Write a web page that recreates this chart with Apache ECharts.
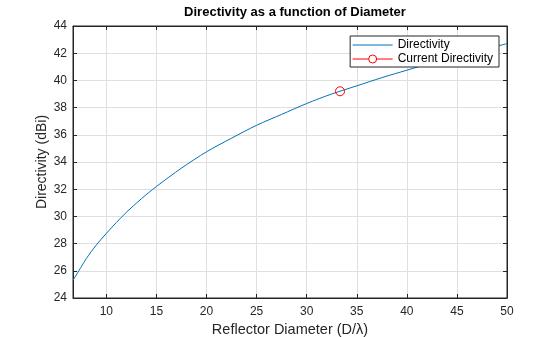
<!DOCTYPE html>
<html><head><meta charset="utf-8">
<script src="https://cdn.jsdelivr.net/npm/echarts@6/dist/echarts.min.js"></script>
<style>html,body{margin:0;padding:0;background:#fff}#c{width:560px;height:337px}</style>
</head><body><div id="c"></div>
<script>
var diameters = [6.67, 7.5, 8, 9, 10, 11, 12, 13.5, 15, 17.5, 20, 22.5, 25, 27.5, 30, 32.5, 35, 37.5, 40, 42.5, 45, 47.5, 50];
var directivity = [25.3, 26.3, 26.9, 27.9, 28.75, 29.55, 30.3, 31.3, 32.2, 33.55, 34.75, 35.75, 36.7, 37.5, 38.3, 39.0, 39.6, 40.2, 40.75, 41.3, 41.8, 42.25, 42.7];
var currentDiameter = [33.33];
var currentDirectivity = [39.2];
var xTicks = [10, 15, 20, 25, 30, 35, 40, 45, 50];
var yTicks = [24, 26, 28, 30, 32, 34, 36, 38, 40, 42, 44];

var font = 'Liberation Sans, Arial, sans-serif';
var chart = echarts.init(document.getElementById('c'), null, {renderer: 'canvas'});
var mainLine = diameters.map(function (d, i) { return [d, directivity[i]]; });
var curPt = currentDiameter.map(function (d, i) { return [d, currentDirectivity[i]]; });
var axLine = {show: true, onZero: false, lineStyle: {color: '#262626', width: 1}};
var yTick = {show: true, inside: true, length: 4, lineStyle: {color: '#262626'}, customValues: yTicks};
var xTick = {show: true, inside: true, length: 4, lineStyle: {color: '#262626'}, customValues: xTicks};
chart.setOption({
  animation: false,
  backgroundColor: '#fff',
  title: {
    text: 'Directivity as a function of Diameter', left: 290, top: 1, textAlign: 'center',
    textStyle: {fontFamily: font, fontWeight: 'bold', fontSize: 13, color: '#000'}
  },
  grid: {left: 73, right: 53, top: 26, bottom: 39, show: true, borderColor: '#262626', borderWidth: 1,
         containLabel: false, outerBoundsMode: 'none'},
  legend: {
    orient: 'vertical', right: 61, top: 36, backgroundColor: '#fff', borderColor: '#262626', borderWidth: 1,
    borderRadius: 0, padding: [3, 6, 2, 2], itemGap: 2, itemWidth: 40, itemHeight: 10,
    textStyle: {fontFamily: font, fontSize: 12, color: '#000'},
    data: [
      {name: 'Directivity', itemStyle: {opacity: 0}, lineStyle: {color: '#0072BD', width: 1}},
      {name: 'Current Directivity', itemStyle: {color: '#fff', borderColor: '#FF0000', borderWidth: 1}, lineStyle: {color: '#FF0000', width: 1}}
    ]
  },
  xAxis: [{
    type: 'value', min: 6.67, max: 50, position: 'bottom',
    name: 'Reflector Diameter (D/\u03bb)', nameLocation: 'middle', nameGap: 22,
    nameTextStyle: {fontFamily: font, fontSize: 14.5, color: '#262626'},
    axisLine: axLine, axisTick: xTick,
    axisLabel: {fontFamily: font, fontSize: 12, color: '#262626', margin: 8, customValues: xTicks},
    splitLine: {show: true, lineStyle: {color: '#dfdfdf', width: 1}}
  }, {
    type: 'value', min: 6.67, max: 50, position: 'top',
    axisLine: axLine, axisTick: xTick,
    axisLabel: {show: false}, splitLine: {show: false}
  }],
  yAxis: [{
    type: 'value', min: 24, max: 44, interval: 2, position: 'left',
    name: 'Directivity (dBi)', nameLocation: 'middle', nameGap: 24, nameMoveOverlap: false,
    nameTextStyle: {fontFamily: font, fontSize: 14, color: '#262626'},
    axisLine: axLine, axisTick: yTick,
    axisLabel: {fontFamily: font, fontSize: 12, color: '#262626', margin: 6, customValues: yTicks},
    splitLine: {show: true, lineStyle: {color: '#dfdfdf', width: 1}}
  }, {
    type: 'value', min: 24, max: 44, interval: 2, position: 'right',
    axisLine: axLine, axisTick: yTick,
    axisLabel: {show: false}, splitLine: {show: false}
  }],
  series: [{
    name: 'Directivity', type: 'line', data: mainLine, smooth: 0.3, showSymbol: false, symbol: 'none',
    itemStyle: {color: '#0072BD'}, lineStyle: {color: '#0072BD', width: 1}
  }, {
    name: 'Current Directivity', type: 'line', data: curPt, symbol: 'circle', symbolSize: 9, showSymbol: true,
    itemStyle: {color: 'rgba(255,255,255,0)', borderColor: '#FF0000', borderWidth: 1}, lineStyle: {color: '#FF0000', width: 1}
  }]
});
</script></body></html>
